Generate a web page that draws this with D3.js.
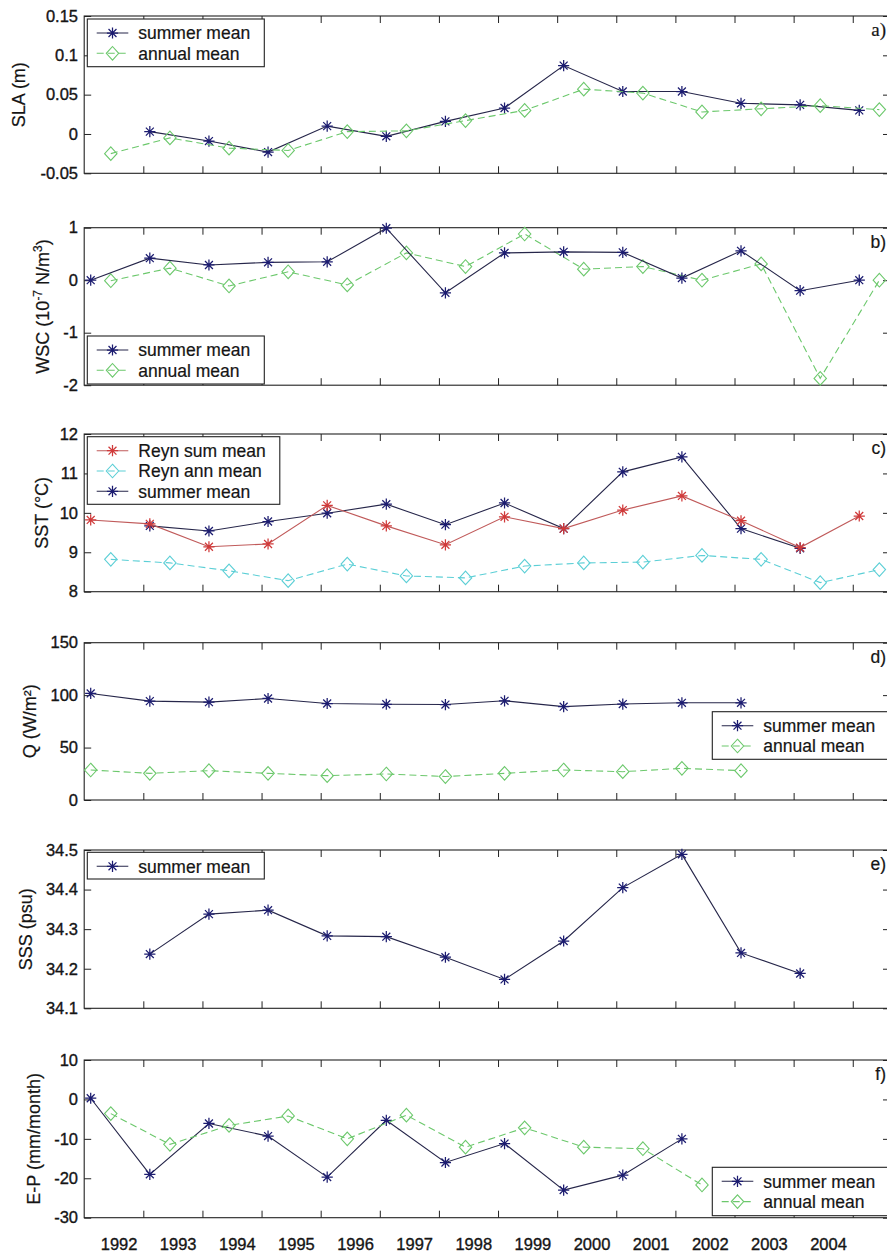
<!DOCTYPE html>
<html><head><meta charset="utf-8">
<script src="https://cdn.jsdelivr.net/npm/d3@7"></script>
<style>body{margin:0;background:#fff}svg{display:block}</style>
</head><body>
<svg id="chart" width="887" height="1255"></svg>
<script>
// ---------------- data ----------------
const yearTickLabels = ["1992","1993","1994","1995","1996","1997","1998","1999","2000","2001","2002","2003","2004"];
const yearTicks = [1993,1994,1995,1996,1997,1998,1999,2000,2001,2002,2003,2004,2005];

// a) SLA (m)
const slaSummerYears = [1993,1994,1995,1996,1997,1998,1999,2000,2001,2002,2003,2004,2005];
const slaSummer = [0.003,-0.009,-0.023,0.010,-0.003,0.016,0.033,0.087,0.054,0.054,0.039,0.037,0.030];
const slaAnnualYears = [1992,1993,1994,1995,1996,1997,1998,1999,2000,2001,2002,2003,2004,2005];
const slaAnnual = [-0.025,-0.005,-0.018,-0.021,0.003,0.004,0.017,0.030,0.057,0.052,0.028,0.032,0.036,0.031];
const slaTicks = [0.15,0.1,0.05,0,-0.05];
const slaTickLabels = ["0.15","0.1","0.05","0","-0.05"];

// b) WSC
const wscSummerYears = [1992,1993,1994,1995,1996,1997,1998,1999,2000,2001,2002,2003,2004,2005];
const wscSummer = [0.0,0.42,0.29,0.34,0.35,0.99,-0.24,0.52,0.54,0.53,0.04,0.56,-0.20,0.0];
const wscAnnualYears = [1992,1993,1994,1995,1996,1997,1998,1999,2000,2001,2002,2003,2004,2005];
const wscAnnual = [-0.01,0.23,-0.11,0.16,-0.09,0.52,0.26,0.88,0.21,0.26,0.0,0.31,-1.87,0.0];
const wscTicks = [1,0,-1,-2];
const wscTickLabels = ["1","0","-1","-2"];

// c) SST
const reynSumYears = [1992,1993,1994,1995,1996,1997,1998,1999,2000,2001,2002,2003,2004,2005];
const reynSum = [9.82,9.72,9.14,9.21,10.19,9.67,9.19,9.90,9.60,10.07,10.43,9.80,9.12,9.92];
const reynAnnYears = [1992,1993,1994,1995,1996,1997,1998,1999,2000,2001,2002,2003,2004,2005];
const reynAnn = [8.82,8.73,8.53,8.28,8.70,8.40,8.35,8.65,8.73,8.75,8.92,8.82,8.23,8.56];
const sstSummerYears = [1993,1994,1995,1996,1997,1998,1999,2000,2001,2002,2003,2004];
const sstSummer = [9.67,9.54,9.78,9.99,10.22,9.70,10.25,9.60,11.04,11.42,9.60,9.10];
const sstTicks = [12,11,10,9,8];
const sstTickLabels = ["12","11","10","9","8"];

// d) Q
const qSummerYears = [1992,1993,1994,1995,1996,1997,1998,1999,2000,2001,2002,2003];
const qSummer = [101.6,94.3,93.3,96.8,92.0,91.3,91.0,94.6,89.0,91.5,92.7,92.7];
const qAnnualYears = [1992,1993,1994,1995,1996,1997,1998,1999,2000,2001,2002,2003];
const qAnnual = [28.6,25.4,28.0,25.4,23.2,24.8,22.4,25.4,28.6,27.0,30.2,28.0];
const qTicks = [150,100,50,0];
const qTickLabels = ["150","100","50","0"];

// e) SSS
const sssSummerYears = [1993,1994,1995,1996,1997,1998,1999,2000,2001,2002,2003,2004];
const sssSummer = [34.237,34.338,34.348,34.283,34.281,34.229,34.173,34.270,34.405,34.489,34.240,34.188];
const sssTicks = [34.5,34.4,34.3,34.2,34.1];
const sssTickLabels = ["34.5","34.4","34.3","34.2","34.1"];

// f) E-P
const epSummerYears = [1992,1993,1994,1995,1996,1997,1998,1999,2000,2001,2002];
const epSummer = [0.3,-19.0,-6.1,-9.3,-19.7,-5.3,-16.0,-11.2,-23.0,-19.2,-10.0];
const epAnnualYears = [1992,1993,1994,1995,1996,1997,1998,1999,2000,2001,2002];
const epAnnual = [-3.6,-11.4,-6.6,-4.2,-10.0,-4.0,-12.1,-7.2,-12.1,-12.5,-21.7];
const epTicks = [10,0,-10,-20,-30];
const epTickLabels = ["10","0","-10","-20","-30"];

// ---------------- styles / layout ----------------
const FONT = "'Liberation Sans', Arial, Helvetica, sans-serif";
const NAVY_LINE = "#26264a", NAVY_MARK = "#1c1c70";
const GREEN = "#6cc86c", CYAN = "#5ccfd6", RED_LINE = "#c05a5a", RED_MARK = "#d03a3a";
const TEXT = "#151515";
const SUMMER_T = 0.11, ANNUAL_T = 0.45, LABEL_T = 0.59;

const summerStyle = {name:"summer mean", line:NAVY_LINE, mark:NAVY_MARK, marker:"star", dash:null};
const annualStyle = {name:"annual mean", line:GREEN, mark:GREEN, marker:"diamond", dash:"7,4"};
const reynSumStyle = {name:"Reyn sum mean", line:RED_LINE, mark:RED_MARK, marker:"star", dash:null};
const reynAnnStyle = {name:"Reyn ann mean", line:CYAN, mark:CYAN, marker:"diamond", dash:"7,4"};

const x = d3.scaleLinear().domain([1992, 2005.63]).range([84.2, 890]);

const panels = [
  {top:16, bottom:173.3, domain:[-0.05,0.15], ticks:slaTicks, tickLabels:slaTickLabels, tag:"a)", tagSerif:true,
   ylabel:[{t:"SLA (m)"}], ylabelX:25,
   series:[{...summerStyle, yrs:slaSummerYears, v:slaSummer, off:SUMMER_T},{...annualStyle, yrs:slaAnnualYears, v:slaAnnual, off:ANNUAL_T}],
   legend:{x:87.3, y:19, w:177, h:47.7, order:[0,1]}},
  {top:227.7, bottom:385.2, domain:[-2,1], ticks:wscTicks, tickLabels:wscTickLabels, tag:"b)",
   ylabel:[{t:"WSC (10"},{t:"-7",sup:true},{t:" N/m"},{t:"3",sup:true},{t:")"}], ylabelX:49,
   series:[{...annualStyle, yrs:wscAnnualYears, v:wscAnnual, off:ANNUAL_T},{...summerStyle, yrs:wscSummerYears, v:wscSummer, off:SUMMER_T}],
   legend:{x:87.3, y:336, w:177, h:48, order:[1,0]}},
  {top:434, bottom:591.7, domain:[8,12], ticks:sstTicks, tickLabels:sstTickLabels, tag:"c)",
   ylabel:[{t:"SST (°C)"}], ylabelX:48,
   series:[{...reynAnnStyle, yrs:reynAnnYears, v:reynAnn, off:ANNUAL_T},{...summerStyle, yrs:sstSummerYears, v:sstSummer, off:SUMMER_T},{...reynSumStyle, yrs:reynSumYears, v:reynSum, off:SUMMER_T}],
   legend:{x:87.3, y:436.7, w:192.5, h:67.6, order:[2,0,1]}},
  {top:642.7, bottom:800, domain:[0,150], ticks:qTicks, tickLabels:qTickLabels, tag:"d)",
   ylabel:[{t:"Q (W/m²)"}], ylabelX:36,
   series:[{...summerStyle, yrs:qSummerYears, v:qSummer, off:SUMMER_T},{...annualStyle, yrs:qAnnualYears, v:qAnnual, off:SUMMER_T}],
   legend:{x:712.3, y:711.7, w:180, h:47.6, order:[0,1]}},
  {top:850, bottom:1008.3, domain:[34.1,34.5], ticks:sssTicks, tickLabels:sssTickLabels, tag:"e)",
   ylabel:[{t:"SSS (psu)"}], ylabelX:32,
   series:[{...summerStyle, yrs:sssSummerYears, v:sssSummer, off:SUMMER_T}],
   legend:{x:87.3, y:852.3, w:177, h:26.7, order:[0]}},
  {top:1060, bottom:1217.7, domain:[-30,10], ticks:epTicks, tickLabels:epTickLabels, tag:"f)",
   ylabel:[{t:"E-P (mm/month)"}], ylabelX:40,
   series:[{...summerStyle, yrs:epSummerYears, v:epSummer, off:SUMMER_T},{...annualStyle, yrs:epAnnualYears, v:epAnnual, off:ANNUAL_T}],
   legend:{x:712.3, y:1167.3, w:180, h:48.4, order:[0,1]}, xlabels:true}
];

const svg = d3.select("#chart");
svg.append("rect").attr("width",887).attr("height",1255).attr("fill","#fff");

const starPath = r => {
  const d = r*0.7071;
  return `M0,${-r}L0,${r}M${-r},0L${r},0M${-d},${-d}L${d},${d}M${-d},${d}L${d},${-d}`;
};
const diamondPath = (w,h) => `M0,${-h}L${w},0L0,${h}L${-w},0Z`;

function drawMarker(g, type, color) {
  if (type === "star") {
    g.append("path").attr("d", starPath(5.6)).attr("stroke", color).attr("stroke-width", 1.25).attr("fill","none");
  } else {
    g.append("path").attr("d", diamondPath(6.2,6.8)).attr("stroke", color).attr("stroke-width", 1.1).attr("fill","none");
  }
}

function heavy(sel) {
  return sel.attr("fill",TEXT).attr("stroke",TEXT).attr("stroke-width",0.35);
}

panels.forEach(p => {
  const L = x.range()[0], R = x.range()[1];
  const y = d3.scaleLinear().domain(p.domain).range([p.bottom, p.top]);
  const g = svg.append("g");

  // x ticks (top & bottom, inward)
  const xAxisB = d3.axisBottom(x).tickValues(yearTicks).tickSize(-7).tickFormat("");
  const xAxisT = d3.axisTop(x).tickValues(yearTicks).tickSize(-7).tickFormat("");
  const gb = g.append("g").attr("transform",`translate(0,${p.bottom})`).call(xAxisB);
  const gt = g.append("g").attr("transform",`translate(0,${p.top})`).call(xAxisT);
  // y ticks (left & right, inward)
  const yAxisL = d3.axisLeft(y).tickValues(p.ticks).tickSize(-7).tickPadding(6)
      .tickFormat((d,i) => p.tickLabels[i]);
  const yAxisR = d3.axisRight(y).tickValues(p.ticks).tickSize(-7).tickFormat("");
  const gl = g.append("g").attr("transform",`translate(${L},0)`).call(yAxisL);
  const gr = g.append("g").attr("transform",`translate(${R},0)`).call(yAxisR);
  [gb,gt,gl,gr].forEach(a => {
    a.select(".domain").remove();
    a.selectAll(".tick line").attr("stroke","#222").attr("stroke-width",1);
  });
  heavy(gl.selectAll(".tick text").attr("font-family",FONT).attr("font-size",16.5).attr("x",-6.2));

  // box
  g.append("rect").attr("x",L).attr("y",p.top).attr("width",R-L).attr("height",p.bottom-p.top)
    .attr("fill","none").attr("stroke","#222").attr("stroke-width",1.1);

  // series
  p.series.forEach(s => {
    const pts = s.yrs.map((yr,i) => [x(yr + s.off), y(s.v[i])]);
    g.append("path").attr("d", d3.line()(pts)).attr("fill","none")
      .attr("stroke", s.line).attr("stroke-width",1.1)
      .attr("stroke-dasharray", s.dash);
    pts.forEach(pt => {
      const m = g.append("g").attr("transform",`translate(${pt[0]},${pt[1]})`);
      drawMarker(m, s.marker, s.mark);
    });
  });

  // legend
  const lg = p.legend;
  const leg = g.append("g");
  leg.append("rect").attr("x",lg.x).attr("y",lg.y).attr("width",lg.w).attr("height",lg.h)
    .attr("fill","#fff").attr("stroke","#222").attr("stroke-width",1.1);
  lg.order.forEach((si,k) => {
    const s = p.series[si];
    const cy = lg.y + 14 + k*20.3;
    const x0 = lg.x + 9.4, x1 = lg.x + 41;
    leg.append("line").attr("x1",x0).attr("x2",x1).attr("y1",cy).attr("y2",cy)
      .attr("stroke", s.line).attr("stroke-width",1.1).attr("stroke-dasharray", s.dash);
    drawMarker(leg.append("g").attr("transform",`translate(${(x0+x1)/2},${cy})`), s.marker, s.mark);
    heavy(leg.append("text").attr("x", lg.x + 51).attr("y", cy + 6.2).attr("font-family",FONT)
      .attr("font-size",17.5).text(s.name)).attr("stroke-width",0.2);
  });

  // panel tag
  heavy(g.append("text").attr("x",886).attr("y",p.top + 20).attr("text-anchor","end")
    .attr("font-family", p.tagSerif ? "'Liberation Serif', 'Times New Roman', serif" : FONT)
    .attr("font-size", p.tagSerif ? 19 : 17.5).text(p.tag)).attr("stroke-width",0.2);

  // y label (rotated)
  const cyMid = (p.top + p.bottom)/2;
  const yl = heavy(g.append("text").attr("transform",`translate(${p.ylabelX},${cyMid}) rotate(-90)`)
    .attr("text-anchor","middle").attr("font-family",FONT).attr("font-size",18)).attr("stroke-width",0.2);
  p.ylabel.forEach(part => {
    const ts = yl.append("tspan").text(part.t);
    if (part.sup) ts.attr("font-size",12).attr("baseline-shift","super");
  });

  // x labels
  if (p.xlabels) {
    heavy(g.append("g").selectAll("text").data(yearTickLabels).join("text")
      .attr("x",(d,i) => x(+d + LABEL_T)).attr("y", 1250)
      .attr("text-anchor","middle").attr("font-family",FONT).attr("font-size",16.5)
      .text(d => d));
  }
});
</script>
</body></html>
